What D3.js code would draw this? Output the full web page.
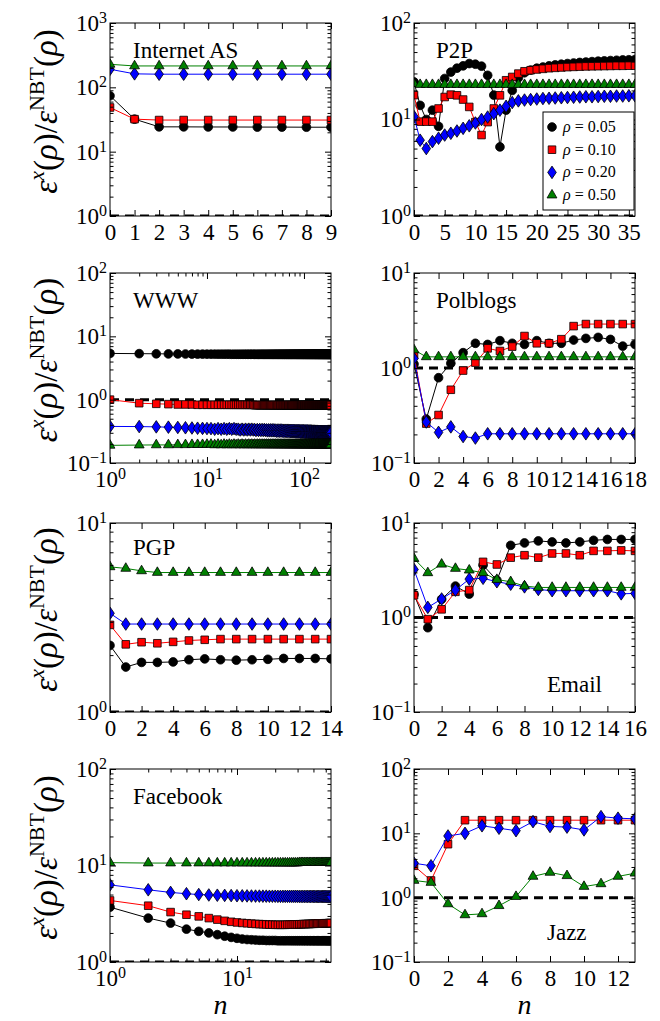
<!DOCTYPE html>
<html>
<head>
<meta charset="utf-8">
<script src="https://cdn.jsdelivr.net/npm/d3@7"></script>
<style>
  body { margin: 0; background: #fff; }
  svg { display: block; }
  svg text { font-family: 'Liberation Serif', 'Times New Roman', Times, 'DejaVu Serif', serif !important; }
</style>
</head>
<body>
<div class="canvas"></div>
<script>
// ---- data ----
const rhoLabels = ['0.05', '0.10', '0.20', '0.50'];

// Internet AS, n = 0..9
const iasN = d3.range(0, 10);
const iasRho05 = [74, 32, 24.3, 24.3, 24.2, 24.2, 24.1, 24.1, 24.0, 24.0];
const iasRho10 = [48.6, 32, 31, 31, 31, 31, 31, 31, 31, 31];
const iasRho20 = [191, 162, 160, 160, 160, 160, 160, 160, 160, 160];
const iasRho50 = [228, 215, 215, 215, 215, 215, 215, 215, 215, 215];

// P2P, n = 0..36
const p2pN = d3.range(0, 37);
const p2pRho05 = [24.5, 14, 10, 12.5, 8.5, 26.6, 31, 34, 36, 38,
  37.4, 35.7, 28.7, 17.9, 5.2, 12.5, 20, 27, 30.5, 32.5,
  34, 35, 36, 36.8, 37.4, 38, 38.5, 39, 39.4, 39.8,
  40.2, 40.5, 40.8, 41.1, 41.4, 41.6, 41.8];
const p2pRho10 = [17.9, 9.5, 9.5, 9.5, 13, 17.1, 18.1, 17.8, 16.1, 13.5,
  9.4, 6.9, 9.4, 13, 17.8, 25.5, 27.6, 29.9, 31.6, 32.4,
  33, 33.5, 34, 34.3, 34.6, 34.9, 35.1, 35.3, 35.5, 35.6,
  35.7, 35.8, 35.9, 36, 36, 36.1, 36.1];
const p2pRho20 = [10.7, 6.1, 5.0, 5.9, 6.4, 6.9, 7.2, 7.6, 8.1, 8.6,
  9.2, 10.0, 10.6, 11.5, 12.5, 13.7, 15.0, 15.6, 15.9, 16.1,
  16.3, 16.5, 16.6, 16.7, 16.8, 16.9, 17.0, 17.1, 17.2, 17.2,
  17.3, 17.4, 17.4, 17.5, 17.5, 17.6, 17.6];
const p2pRho50 = [23.5, 23, 23, 23, 23, 23, 23, 23, 23, 23,
  23, 23, 23, 23, 23, 23, 23, 23, 23, 23,
  23, 23, 23, 23, 23, 23, 23, 23, 23, 23,
  23, 23, 23, 23, 23, 23, 23];

// WWW, n = 1..190
const wwwN = d3.range(1, 191);
const wwwRho05 = [5.37, 5.33, 5.30, 5.28, 5.27, 5.26, 5.25, 5.24, 5.24, 5.23,
  5.23, 5.23, 5.22, 5.22, 5.22, 5.22, 5.22, 5.21, 5.21, 5.21,
  5.21, 5.21, 5.21, 5.21, 5.21, 5.21, 5.21, 5.21, 5.21, 5.21,
  5.2, 5.2, 5.2, 5.2, 5.2, 5.2, 5.2, 5.2, 5.2, 5.2,
  5.2, 5.2, 5.2, 5.2, 5.2, 5.2, 5.2, 5.2, 5.2, 5.2,
  5.2, 5.2, 5.2, 5.2, 5.2, 5.2, 5.2, 5.2, 5.2, 5.2,
  5.2, 5.2, 5.2, 5.2, 5.2, 5.2, 5.2, 5.2, 5.2, 5.2,
  5.2, 5.2, 5.2, 5.2, 5.2, 5.2, 5.2, 5.2, 5.2, 5.2,
  5.2, 5.2, 5.2, 5.2, 5.2, 5.2, 5.2, 5.2, 5.2, 5.2,
  5.2, 5.2, 5.2, 5.2, 5.2, 5.2, 5.2, 5.2, 5.2, 5.2,
  5.2, 5.2, 5.2, 5.2, 5.2, 5.2, 5.2, 5.2, 5.2, 5.2,
  5.2, 5.2, 5.2, 5.2, 5.2, 5.2, 5.2, 5.2, 5.2, 5.2,
  5.2, 5.2, 5.2, 5.2, 5.2, 5.2, 5.2, 5.2, 5.2, 5.2,
  5.2, 5.2, 5.2, 5.2, 5.2, 5.2, 5.2, 5.2, 5.2, 5.2,
  5.2, 5.2, 5.2, 5.2, 5.2, 5.2, 5.2, 5.2, 5.2, 5.2,
  5.2, 5.2, 5.2, 5.2, 5.2, 5.2, 5.2, 5.2, 5.2, 5.2,
  5.2, 5.2, 5.2, 5.2, 5.2, 5.2, 5.2, 5.2, 5.2, 5.2,
  5.2, 5.2, 5.2, 5.2, 5.2, 5.2, 5.2, 5.2, 5.2, 5.2,
  5.2, 5.2, 5.2, 5.2, 5.2, 5.2, 5.2, 5.2, 5.2, 5.2];
const wwwRho10 = [1.00, 0.88, 0.86, 0.85, 0.84, 0.84, 0.84, 0.83, 0.83, 0.83,
  0.83, 0.83, 0.83, 0.83, 0.83, 0.83, 0.83, 0.83, 0.83, 0.83,
  0.83, 0.83, 0.83, 0.83, 0.83, 0.83, 0.83, 0.83, 0.83, 0.83,
  0.82, 0.82, 0.82, 0.82, 0.82, 0.82, 0.82, 0.82, 0.82, 0.82,
  0.82, 0.82, 0.82, 0.82, 0.82, 0.82, 0.82, 0.82, 0.82, 0.82,
  0.82, 0.82, 0.82, 0.82, 0.82, 0.82, 0.82, 0.82, 0.82, 0.82,
  0.82, 0.82, 0.82, 0.82, 0.82, 0.82, 0.82, 0.82, 0.82, 0.82,
  0.82, 0.82, 0.82, 0.82, 0.82, 0.82, 0.82, 0.82, 0.82, 0.82,
  0.82, 0.82, 0.82, 0.82, 0.82, 0.82, 0.82, 0.82, 0.82, 0.82,
  0.82, 0.82, 0.82, 0.82, 0.82, 0.82, 0.82, 0.82, 0.82, 0.82,
  0.82, 0.82, 0.82, 0.82, 0.82, 0.82, 0.82, 0.82, 0.82, 0.82,
  0.82, 0.82, 0.82, 0.82, 0.82, 0.82, 0.82, 0.82, 0.82, 0.82,
  0.82, 0.82, 0.82, 0.82, 0.82, 0.82, 0.82, 0.82, 0.82, 0.82,
  0.82, 0.82, 0.82, 0.82, 0.82, 0.82, 0.82, 0.82, 0.82, 0.82,
  0.82, 0.82, 0.82, 0.82, 0.82, 0.82, 0.82, 0.82, 0.82, 0.82,
  0.82, 0.82, 0.82, 0.82, 0.82, 0.82, 0.82, 0.82, 0.82, 0.82,
  0.82, 0.82, 0.82, 0.82, 0.82, 0.82, 0.82, 0.82, 0.82, 0.82,
  0.82, 0.82, 0.82, 0.82, 0.82, 0.82, 0.82, 0.82, 0.82, 0.82,
  0.82, 0.82, 0.82, 0.82, 0.82, 0.82, 0.82, 0.82, 0.82, 0.82];
const wwwRho20 = [0.378, 0.376, 0.372, 0.368, 0.364, 0.360, 0.357, 0.354, 0.352, 0.350,
  0.349, 0.341, 0.349, 0.341, 0.349, 0.341, 0.349, 0.341, 0.349, 0.341,
  0.342, 0.332, 0.342, 0.332, 0.342, 0.332, 0.342, 0.332, 0.342, 0.332,
  0.338, 0.326, 0.338, 0.326, 0.338, 0.326, 0.338, 0.326, 0.338, 0.326,
  0.334, 0.322, 0.334, 0.322, 0.334, 0.322, 0.334, 0.322, 0.334, 0.322,
  0.331, 0.318, 0.331, 0.318, 0.331, 0.318, 0.331, 0.318, 0.331, 0.318,
  0.329, 0.315, 0.329, 0.315, 0.329, 0.315, 0.329, 0.315, 0.329, 0.315,
  0.327, 0.312, 0.327, 0.312, 0.327, 0.312, 0.327, 0.312, 0.327, 0.312,
  0.325, 0.310, 0.325, 0.310, 0.325, 0.310, 0.325, 0.310, 0.325, 0.310,
  0.323, 0.307, 0.323, 0.307, 0.323, 0.307, 0.323, 0.307, 0.323, 0.307,
  0.321, 0.305, 0.321, 0.305, 0.321, 0.305, 0.321, 0.305, 0.321, 0.305,
  0.320, 0.303, 0.320, 0.303, 0.320, 0.303, 0.320, 0.303, 0.320, 0.303,
  0.318, 0.301, 0.318, 0.301, 0.318, 0.301, 0.318, 0.301, 0.318, 0.301,
  0.317, 0.299, 0.317, 0.299, 0.317, 0.299, 0.317, 0.299, 0.317, 0.299,
  0.316, 0.297, 0.316, 0.297, 0.316, 0.297, 0.316, 0.297, 0.316, 0.297,
  0.315, 0.296, 0.315, 0.296, 0.315, 0.296, 0.315, 0.296, 0.315, 0.296,
  0.314, 0.294, 0.314, 0.294, 0.314, 0.294, 0.314, 0.294, 0.314, 0.294,
  0.313, 0.293, 0.313, 0.293, 0.313, 0.293, 0.313, 0.293, 0.313, 0.293,
  0.312, 0.292, 0.312, 0.292, 0.312, 0.292, 0.312, 0.292, 0.312, 0.300];
const wwwRho50 = [0.190, 0.192, 0.193, 0.193, 0.194, 0.194, 0.195, 0.195, 0.195, 0.196,
  0.197, 0.193, 0.197, 0.193, 0.197, 0.193, 0.197, 0.193, 0.197, 0.193,
  0.197, 0.193, 0.197, 0.193, 0.197, 0.193, 0.197, 0.193, 0.197, 0.193,
  0.197, 0.193, 0.197, 0.193, 0.197, 0.193, 0.197, 0.193, 0.197, 0.193,
  0.197, 0.193, 0.197, 0.193, 0.197, 0.193, 0.197, 0.193, 0.197, 0.193,
  0.197, 0.193, 0.197, 0.193, 0.197, 0.193, 0.197, 0.193, 0.197, 0.193,
  0.197, 0.193, 0.197, 0.193, 0.197, 0.193, 0.197, 0.193, 0.197, 0.193,
  0.197, 0.193, 0.197, 0.193, 0.197, 0.193, 0.197, 0.193, 0.197, 0.193,
  0.197, 0.193, 0.197, 0.193, 0.197, 0.193, 0.197, 0.193, 0.197, 0.193,
  0.197, 0.193, 0.197, 0.193, 0.197, 0.193, 0.197, 0.193, 0.197, 0.193,
  0.197, 0.193, 0.197, 0.193, 0.197, 0.193, 0.197, 0.193, 0.197, 0.193,
  0.197, 0.193, 0.197, 0.193, 0.197, 0.193, 0.197, 0.193, 0.197, 0.193,
  0.197, 0.193, 0.197, 0.193, 0.197, 0.193, 0.197, 0.193, 0.197, 0.193,
  0.197, 0.193, 0.197, 0.193, 0.197, 0.193, 0.197, 0.193, 0.197, 0.193,
  0.197, 0.193, 0.197, 0.193, 0.197, 0.193, 0.197, 0.193, 0.197, 0.193,
  0.197, 0.193, 0.197, 0.193, 0.197, 0.193, 0.197, 0.193, 0.197, 0.193,
  0.197, 0.193, 0.197, 0.193, 0.197, 0.193, 0.197, 0.193, 0.197, 0.193,
  0.197, 0.193, 0.197, 0.193, 0.197, 0.193, 0.197, 0.193, 0.197, 0.193,
  0.197, 0.193, 0.197, 0.193, 0.197, 0.193, 0.197, 0.193, 0.197, 0.193];

// Polblogs, n = 0..18
const pbN = d3.range(0, 19);
const pbRho05 = [1.1, 0.29, 0.79, 1.12, 1.45, 1.82, 1.77, 1.94, 1.82, 1.77, 1.94, 1.82, 1.82, 1.97, 2.05, 2.1, 2.0, 1.7, 1.77];
const pbRho10 = [1.37, 0.26, 0.32, 0.59, 0.94, 1.14, 1.61, 1.51, 1.68, 2.17, 1.82, 1.82, 2.01, 2.76, 2.9, 2.9, 2.9, 2.9, 2.9];
const pbRho20 = [1.26, 0.27, 0.21, 0.24, 0.19, 0.183, 0.203, 0.203, 0.203, 0.203, 0.203, 0.203, 0.203, 0.203, 0.203, 0.203, 0.203, 0.203, 0.203];
const pbRho50 = [1.55, 1.31, 1.31, 1.31, 1.31, 1.31, 1.31, 1.31, 1.31, 1.31, 1.31, 1.31, 1.31, 1.31, 1.31, 1.31, 1.31, 1.31, 1.31];

// PGP, n = 0..14
const pgpN = d3.range(0, 15);
const pgpRho05 = [2.25, 1.73, 1.83, 1.83, 1.84, 1.89, 1.91, 1.89, 1.88, 1.89, 1.90, 1.92, 1.92, 1.92, 1.91];
const pgpRho10 = [2.89, 2.28, 2.34, 2.31, 2.35, 2.39, 2.41, 2.43, 2.43, 2.43, 2.43, 2.43, 2.43, 2.43, 2.43];
const pgpRho20 = [3.33, 2.92, 2.92, 2.92, 2.92, 2.92, 2.92, 2.92, 2.92, 2.92, 2.92, 2.92, 2.92, 2.92, 2.92];
const pgpRho50 = [5.86, 5.75, 5.58, 5.47, 5.47, 5.47, 5.47, 5.47, 5.47, 5.47, 5.47, 5.47, 5.47, 5.47, 5.47];

// Email, n = 0..16
const emN = d3.range(0, 17);
const emRho05 = [1.75, 0.78, 1.56, 2.15, 1.77, 3.58, 2.48, 5.8, 6.15, 6.46, 6.3, 6.15, 6.3, 6.56, 6.7, 6.7, 6.7];
const emRho10 = [1.72, 0.96, 1.22, 1.87, 1.95, 3.88, 3.64, 4.3, 4.56, 4.3, 4.76, 4.76, 4.56, 5.07, 5.07, 5.13, 5.07];
const emRho20 = [3.22, 1.28, 1.57, 1.95, 2.55, 2.6, 2.39, 2.25, 2.11, 1.98, 1.92, 1.92, 1.92, 1.92, 1.92, 1.78, 1.8];
const emRho50 = [4.2, 2.97, 3.66, 3.3, 3.17, 2.97, 2.52, 2.39, 2.15, 2.08, 2.08, 2.08, 2.08, 2.08, 2.08, 2.08, 2.08];

// Facebook, n = 1..55
const fbN = d3.range(1, 56);
const fbRho05 = [3.70, 2.85, 2.53, 2.19, 2.08, 2.00, 1.92, 1.85, 1.80, 1.76,
  1.73, 1.71, 1.70, 1.69, 1.68, 1.68, 1.67, 1.67, 1.67, 1.67,
  1.66, 1.66, 1.66, 1.66, 1.66, 1.66, 1.66, 1.66, 1.66, 1.66,
  1.66, 1.66, 1.66, 1.66, 1.66, 1.66, 1.66, 1.66, 1.66, 1.66,
  1.66, 1.66, 1.66, 1.66, 1.66, 1.66, 1.66, 1.66, 1.66, 1.66,
  1.66, 1.66, 1.66, 1.66, 1.66];
const fbRho10 = [4.34, 3.83, 3.29, 3.09, 2.97, 2.85, 2.75, 2.67, 2.61, 2.57,
  2.54, 2.52, 2.50, 2.48, 2.47, 2.46, 2.45, 2.44, 2.44, 2.43,
  2.43, 2.43, 2.43, 2.43, 2.44, 2.44, 2.44, 2.45, 2.45, 2.45,
  2.46, 2.46, 2.47, 2.47, 2.47, 2.48, 2.48, 2.48, 2.49, 2.49,
  2.49, 2.50, 2.50, 2.50, 2.50, 2.51, 2.51, 2.51, 2.52, 2.52,
  2.52, 2.52, 2.53, 2.53, 2.53];
const fbRho20 = [6.30, 5.60, 5.26, 5.10, 5.00, 4.95, 4.92, 4.90, 4.88, 4.86,
  4.85, 4.84, 4.83, 4.82, 4.82, 4.81, 4.81, 4.80, 4.80, 4.80,
  4.79, 4.79, 4.79, 4.79, 4.79, 4.79, 4.79, 4.79, 4.79, 4.79,
  4.78, 4.78, 4.78, 4.78, 4.78, 4.78, 4.78, 4.78, 4.78, 4.78,
  4.77, 4.77, 4.77, 4.77, 4.77, 4.77, 4.77, 4.77, 4.77, 4.77,
  4.76, 4.76, 4.76, 4.76, 4.76];
const fbRho50 = [10.7, 10.6, 10.6, 10.6, 10.6, 10.6, 10.6, 10.6, 10.6, 10.6,
  10.6, 10.6, 10.6, 10.6, 10.6, 10.6, 10.6, 10.6, 10.6, 10.6,
  10.6, 10.6, 10.6, 10.6, 10.6, 10.6, 10.6, 10.6, 10.6, 10.6,
  10.7, 10.7, 10.7, 10.7, 10.7, 10.7, 10.7, 10.7, 10.7, 10.7,
  10.7, 10.7, 10.7, 10.7, 10.7, 10.7, 10.7, 10.7, 10.7, 10.7,
  10.7, 10.7, 10.7, 10.7, 10.7];

// Jazz, n = 0..13 (rho = 0.05 is hidden under rho = 0.10 in the figure)
const jzN = d3.range(0, 14);
const jzRho10 = [3.13, 1.85, 6.78, 16, 16, 16, 16, 16, 16, 16, 16, 16, 16, 16];
const jzRho20 = [3.43, 3.13, 9.1, 10.0, 13.1, 12.0, 11.0, 15.2, 12.8, 12.5, 11.3, 18.2, 17.2, 16.8];
const jzRho50 = [1.85, 1.72, 0.80, 0.54, 0.56, 0.75, 1.04, 2.14, 2.47, 2.19, 1.49, 1.64, 2.14, 2.40];

// ---- layout ----
const W = 660, H = 1021;
const FONT = "'Liberation Serif', 'Times New Roman', Times, 'DejaVu Serif', serif";
const cols = [{ x0: 110, x1: 331 }, { x0: 414, x1: 635 }];
const rows = [{ y0: 23, y1: 216 }, { y0: 273, y1: 463 }, { y0: 523, y1: 712 }, { y0: 769, y1: 962 }];
const tickFont = 23;

// matplotlib-ish thin diamond
const thinDiamond = {
  draw(ctx) {
    const w = 4.3, h = 6.3;
    ctx.moveTo(0, -h); ctx.lineTo(w, 0); ctx.lineTo(0, h); ctx.lineTo(-w, 0); ctx.closePath();
  }
};
const styles = [
  { color: '#000000', sym: d3.symbolCircle, size: 60 },
  { color: '#ff0000', sym: d3.symbolSquare, size: 58 },
  { color: '#0000ff', sym: thinDiamond, size: 1 },
  { color: '#008000', sym: d3.symbolTriangle, size: 42 },
];

const panels = [
  { name: 'Internet AS', col: 0, row: 0, n: iasN, series: [iasRho05, iasRho10, iasRho20, iasRho50],
    xLog: false, xDomain: [0, 9], xTicks: d3.range(0, 10), yDomain: [1, 1000], title: { dx: 23, top: 35 } },
  { name: 'P2P', col: 1, row: 0, n: p2pN, series: [p2pRho05, p2pRho10, p2pRho20, p2pRho50],
    xLog: false, xDomain: [0, 36], xTicks: d3.range(0, 36, 5), yDomain: [1, 100], title: { dx: 22, top: 35 }, legend: true },
  { name: 'WWW', col: 0, row: 1, n: wwwN, series: [wwwRho05, wwwRho10, wwwRho20, wwwRho50],
    xLog: true, xDomain: [1, 190], yDomain: [0.1, 100], title: { dx: 23, top: 35 } },
  { name: 'Polblogs', col: 1, row: 1, n: pbN, series: [pbRho05, pbRho10, pbRho20, pbRho50],
    xLog: false, xDomain: [0, 18], xTicks: d3.range(0, 19, 2), yDomain: [0.1, 10], title: { dx: 22, top: 35 } },
  { name: 'PGP', col: 0, row: 2, n: pgpN, series: [pgpRho05, pgpRho10, pgpRho20, pgpRho50],
    xLog: false, xDomain: [0, 14], xTicks: d3.range(0, 15, 2), yDomain: [1, 10], title: { dx: 23, top: 32 } },
  { name: 'Email', col: 1, row: 2, n: emN, series: [emRho05, emRho10, emRho20, emRho50],
    xLog: false, xDomain: [0, 16], xTicks: d3.range(0, 17, 2), yDomain: [0.1, 10], title: { dx: 133, bottom: 20 } },
  { name: 'Facebook', col: 0, row: 3, n: fbN, series: [fbRho05, fbRho10, fbRho20, fbRho50],
    xLog: true, xDomain: [1, 55], yDomain: [1, 100], title: { dx: 23, top: 35 } },
  { name: 'Jazz', col: 1, row: 3, n: jzN, series: [null, jzRho10, jzRho20, jzRho50],
    xLog: false, xDomain: [0, 13], xTicks: d3.range(0, 13, 2), yDomain: [0.1, 100], title: { dx: 133, bottom: 22 } },
];

const svg = d3.select('.canvas').append('svg')
  .attr('width', W)
  .attr('height', H)
  .style('font-family', FONT);

function majorLog(domain) {
  const out = [];
  for (let k = Math.ceil(Math.log10(domain[0]) - 1e-9); Math.pow(10, k) <= domain[1] * (1 + 1e-9); k++) out.push(Math.pow(10, k));
  return out;
}
function minorLog(domain) {
  const out = [];
  const lo = Math.floor(Math.log10(domain[0])), hi = Math.ceil(Math.log10(domain[1]));
  for (let k = lo; k < hi; k++) {
    for (let m = 2; m < 10; m++) {
      const v = m * Math.pow(10, k);
      if (v > domain[0] && v < domain[1]) out.push(v);
    }
  }
  return out;
}
// "10" with a raised exponent
function powText(sel) {
  sel.each(function (d) {
    const k = Math.round(Math.log10(d));
    const t = d3.select(this).text(null);
    t.append('tspan').text('10');
    t.append('tspan').attr('dy', -8).attr('font-size', 16).text(k < 0 ? '\u2212' + (-k) : String(k));
  });
}
function styleAxis(a) {
  a.attr('font-size', tickFont).attr('font-family', FONT);
  a.select('.domain').remove();
}

panels.forEach((p, i) => {
  const c = cols[p.col], r = rows[p.row];
  const x = (p.xLog ? d3.scaleLog() : d3.scaleLinear()).domain(p.xDomain).range([c.x0, c.x1]);
  const y = d3.scaleLog().domain(p.yDomain).range([r.y1, r.y0]);
  const g = svg.append('g');

  const clipId = 'clip' + i;
  g.append('clipPath').attr('id', clipId)
    .append('rect').attr('x', c.x0).attr('y', r.y0).attr('width', c.x1 - c.x0).attr('height', r.y1 - r.y0);
  const plot = g.append('g').attr('clip-path', `url(#${clipId})`);

  // reference line at ratio 1
  plot.append('line')
    .attr('x1', c.x0).attr('x2', c.x1).attr('y1', y(1)).attr('y2', y(1))
    .attr('stroke', '#000').attr('stroke-width', 3).attr('stroke-dasharray', '9,6');

  const line = d3.line().x(d => x(d[0])).y(d => y(d[1]));
  p.series.forEach((vals, s) => {
    if (!vals) return;
    const st = styles[s];
    const pts = vals.map((v, j) => [p.n[j], v]);
    plot.append('path').datum(pts)
      .attr('fill', 'none').attr('stroke', st.color).attr('stroke-width', 1)
      .attr('d', line);
    plot.append('g').selectAll('path')
      .data(pts)
      .enter().append('path')
      .attr('transform', d => `translate(${x(d[0])},${y(d[1])})`)
      .attr('d', d3.symbol(st.sym, st.size))
      .attr('fill', st.color)
      .attr('stroke', '#000')
      .attr('stroke-width', 0.8);
  });

  // axes: ticks inward on all four sides
  const xMajor = p.xLog ? majorLog(p.xDomain) : p.xTicks;
  const xMinor = p.xLog ? minorLog(p.xDomain) : [];
  const yMajor = majorLog(p.yDomain);
  const yMinor = minorLog(p.yDomain);

  g.append('g').attr('transform', `translate(0,${r.y1})`)
    .call(d3.axisBottom(x).tickValues(xMajor).tickSize(-6).tickSizeOuter(0).tickPadding(8)
      .tickFormat(p.xLog ? null : d3.format('d')))
    .call(styleAxis)
    .call(a => { if (p.xLog) a.selectAll('.tick text').call(powText); });
  g.append('g').attr('transform', `translate(0,${r.y1})`)
    .call(d3.axisBottom(x).tickValues(xMinor).tickSize(-3.5).tickSizeOuter(0).tickFormat(''))
    .call(styleAxis);
  g.append('g').attr('transform', `translate(0,${r.y0})`)
    .call(d3.axisTop(x).tickValues(xMajor).tickSize(-6).tickSizeOuter(0).tickFormat(''))
    .call(styleAxis);
  g.append('g').attr('transform', `translate(0,${r.y0})`)
    .call(d3.axisTop(x).tickValues(xMinor).tickSize(-3.5).tickSizeOuter(0).tickFormat(''))
    .call(styleAxis);

  g.append('g').attr('transform', `translate(${c.x0},0)`)
    .call(d3.axisLeft(y).tickValues(yMajor).tickSize(-6).tickSizeOuter(0).tickPadding(3))
    .call(styleAxis)
    .call(a => a.selectAll('.tick text').call(powText));
  g.append('g').attr('transform', `translate(${c.x0},0)`)
    .call(d3.axisLeft(y).tickValues(yMinor).tickSize(-3.5).tickSizeOuter(0).tickFormat(''))
    .call(styleAxis);
  g.append('g').attr('transform', `translate(${c.x1},0)`)
    .call(d3.axisRight(y).tickValues(yMajor).tickSize(-6).tickSizeOuter(0).tickFormat(''))
    .call(styleAxis);
  g.append('g').attr('transform', `translate(${c.x1},0)`)
    .call(d3.axisRight(y).tickValues(yMinor).tickSize(-3.5).tickSizeOuter(0).tickFormat(''))
    .call(styleAxis);

  g.append('rect')
    .attr('x', c.x0).attr('y', r.y0).attr('width', c.x1 - c.x0).attr('height', r.y1 - r.y0)
    .attr('fill', 'none').attr('stroke', '#000').attr('stroke-width', 1);

  // panel name
  g.append('text')
    .attr('x', c.x0 + p.title.dx)
    .attr('y', p.title.top != null ? r.y0 + p.title.top : r.y1 - p.title.bottom)
    .attr('font-size', 23)
    .text(p.name);

  if (p.legend) {
    const lx = c.x1 - 92, ly = r.y0 + 89;
    const leg = g.append('g');
    leg.append('rect').attr('x', lx).attr('y', ly).attr('width', 91).attr('height', 98)
      .attr('fill', '#fff').attr('stroke', '#000').attr('stroke-width', 1);
    rhoLabels.forEach((lab, s) => {
      const yy = ly + 15 + s * 22.7;
      leg.append('path')
        .attr('transform', `translate(${lx + 9},${yy})`)
        .attr('d', d3.symbol(styles[s].sym, styles[s].size))
        .attr('fill', styles[s].color).attr('stroke', '#000').attr('stroke-width', 0.8);
      const t = leg.append('text').attr('x', lx + 20).attr('y', yy + 5).attr('font-size', 16);
      t.append('tspan').attr('font-style', 'italic').text('\u03c1');
      t.append('tspan').text(' = ' + lab);
    });
  }
});

// y-axis label on each row
rows.forEach(r => {
  const cy = (r.y0 + r.y1) / 2 - 8;
  const t = svg.append('text')
    .attr('transform', `translate(57,${cy}) rotate(-90)`)
    .attr('text-anchor', 'middle')
    .attr('font-size', 33);
  t.append('tspan').attr('font-style', 'italic').text('\u03b5');
  t.append('tspan').attr('font-style', 'italic').attr('font-size', 22).attr('dy', -13).text('x');
  t.append('tspan').attr('dy', 13).text('(');
  t.append('tspan').attr('font-style', 'italic').text('\u03c1');
  t.append('tspan').text(')/');
  t.append('tspan').attr('font-style', 'italic').text('\u03b5');
  t.append('tspan').attr('font-size', 22).attr('dy', -13).text('NBT');
  t.append('tspan').attr('dy', 13).text('(');
  t.append('tspan').attr('font-style', 'italic').text('\u03c1');
  t.append('tspan').text(')');
});

// x-axis label under each column
cols.forEach(c => {
  svg.append('text')
    .attr('x', (c.x0 + c.x1) / 2)
    .attr('y', 1014)
    .attr('text-anchor', 'middle')
    .attr('font-size', 28)
    .attr('font-style', 'italic')
    .text('n');
});
</script>
</body>
</html>
